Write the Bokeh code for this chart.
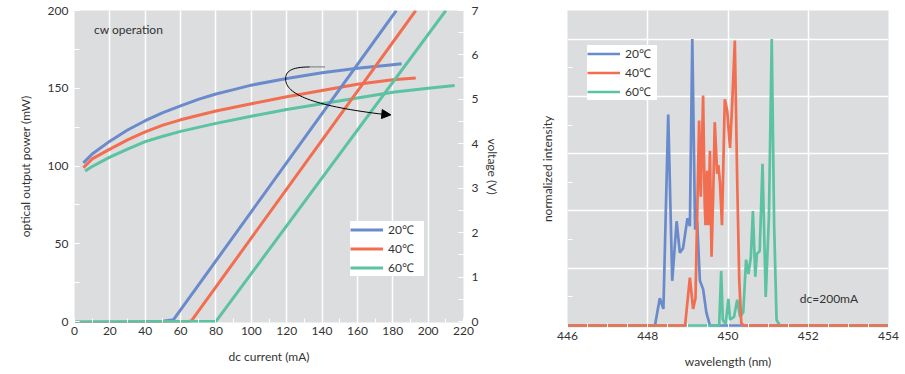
from bokeh.plotting import figure
from bokeh.models import (Range1d, LinearAxis, SingleIntervalTicker, FixedTicker, Legend, LegendItem,
                          Arrow, NormalHead, Label)
from bokeh.layouts import row
from bokeh.embed import file_html
from bokeh.resources import INLINE

# ---------------- data: left chart (L-I and V-I) ----------------
temps = ["20℃", "40℃", "60℃"]
colors = ["#6A8BCB", "#F26E50", "#5BC2A2"]

li_current_20 = [0, 20, 40, 50, 56, 182]
li_power_20 = [-0.4, -0.4, -0.3, 0.2, 1.2, 200]
li_current_40 = [0, 20, 40, 55, 62, 66, 193]
li_power_40 = [-0.8, -1.0, -1.0, -0.8, -0.2, 0.3, 200]
li_current_60 = [0, 50, 80, 210]
li_power_60 = [-0.3, 0.0, 0.1, 200]

vi_current_20 = [5, 10, 20, 30, 40, 50, 60, 70, 80, 90, 100, 120, 140, 160, 180, 185]
vi_voltage_20 = [3.57, 3.77, 4.06, 4.31, 4.52, 4.70, 4.855, 5.00, 5.12, 5.22, 5.32, 5.47, 5.60, 5.70, 5.78, 5.80]
vi_current_40 = [5, 10, 20, 30, 40, 50, 60, 80, 100, 120, 140, 160, 180, 193]
vi_voltage_40 = [3.46, 3.66, 3.88, 4.09, 4.27, 4.42, 4.54, 4.74, 4.90, 5.06, 5.20, 5.34, 5.44, 5.48]
vi_current_60 = [6, 10, 20, 30, 40, 50, 60, 80, 100, 120, 140, 160, 180, 200, 215]
vi_voltage_60 = [3.39, 3.49, 3.70, 3.88, 4.05, 4.17, 4.28, 4.46, 4.62, 4.77, 4.90, 5.03, 5.16, 5.25, 5.31]

# curved arrow (annotation, data coords)
arrow_gray_x = [141.7, 133.0]
arrow_gray_y = [163.7, 163.7]
arrow_tip = (178.9, 132.9)

# ---------------- data: right chart (spectra) ----------------
wl_20 = [446.0, 448.18, 448.30, 448.39, 448.51, 448.61, 448.72, 448.80, 448.88, 448.99,
         449.05, 449.11, 449.18, 449.23, 449.30, 449.38, 449.46, 449.55, 454.0]
int_20 = [0, 0, 0.095, 0.058, 0.737, 0.156, 0.364, 0.254, 0.27, 0.375,
          0.347, 1.0, 0.335, 0.364, 0.156, 0.127, 0.046, 0, 0]

wl_40 = [446.0, 448.93, 449.05, 449.13, 449.19, 449.28, 449.32, 449.38, 449.42, 449.44,
         449.48, 449.51, 449.55, 449.59, 449.63, 449.67, 449.73, 449.76, 449.80, 449.85,
         449.92, 449.98, 450.05, 450.10, 450.17, 450.23, 450.28, 450.33, 450.38, 454.0]
int_40 = [0, 0, 0.167, 0.058, 0.095, 0.716, 0.45, 0.803, 0.42, 0.35,
          0.54, 0.35, 0.61, 0.24, 0.45, 0.71, 0.53, 0.56, 0.50, 0.35,
          0.79, 0.75, 0.62, 0.76, 0.995, 0.50, 0.16, 0.01, 0, 0]

wl_60 = [446.0, 449.78, 449.83, 449.87, 449.94, 450.01, 450.05, 450.15, 450.23, 450.30,
         450.38, 450.45, 450.51, 450.57, 450.62, 450.68, 450.72, 450.79, 450.86, 450.94,
         451.02, 451.09, 451.15, 451.21, 451.29, 454.0]
int_60 = [0, 0, 0.19, 0.02, 0.005, 0.093, 0.02, 0.03, 0.09, 0.03,
          0.046, 0.23, 0.18, 0.24, 0.40, 0.17, 0.25, 0.26, 0.565, 0.10,
          0.38, 1.0, 0.35, 0.02, 0, 0]

intensity_minor_ticks = [0.1, 0.3, 0.5, 0.7, 0.9]

FONT = "Lato"
TXT = "#333333"
BG = "#DCDDDF"

# ================= left figure =================
p1 = figure(frame_width=389, frame_height=312, x_range=Range1d(0, 220), y_range=Range1d(-0.6, 200),
            output_backend="svg", toolbar_location=None, title=None,
            min_border_left=74, min_border_right=39, min_border_top=6, min_border_bottom=53)
p1.extra_y_ranges = {"v": Range1d(-0.021, 7.0)}
p1.background_fill_color = BG
p1.outline_line_color = None

p1.xaxis.ticker = SingleIntervalTicker(interval=20, num_minor_ticks=2)
p1.yaxis.ticker = SingleIntervalTicker(interval=50, num_minor_ticks=2)
p1.xgrid.ticker = SingleIntervalTicker(interval=20)
p1.xgrid.grid_line_color = "white"
p1.xgrid.grid_line_width = 1.5
p1.ygrid.grid_line_color = None

vaxis = LinearAxis(y_range_name="v", ticker=SingleIntervalTicker(interval=1, num_minor_ticks=2),
                   axis_label="voltage (V)")
p1.add_layout(vaxis, "right")

for ax in [p1.xaxis[0], p1.yaxis[0], vaxis]:
    ax.axis_line_color = None
    ax.major_tick_out = 0
    ax.minor_tick_out = 0
    ax.major_tick_in = 5
    ax.minor_tick_in = 5
    ax.major_tick_line_color = "white"
    ax.minor_tick_line_color = "white"
    ax.major_label_text_font = FONT
    ax.major_label_text_font_size = "12px"
    ax.major_label_text_color = TXT
    ax.axis_label_text_font = FONT
    ax.axis_label_text_font_size = "12px"
    ax.axis_label_text_font_style = "normal"
    ax.axis_label_text_color = TXT

p1.xaxis.axis_label = "dc current (mA)"
p1.xaxis.major_label_standoff = 4
p1.xaxis.axis_label_standoff = 11
p1.xaxis.minor_tick_in = 4
p1.yaxis[0].axis_label = "optical output power (mW)"
p1.yaxis[0].major_label_standoff = 6
p1.yaxis[0].axis_label_standoff = 12
vaxis.major_label_standoff = 8
vaxis.axis_label_standoff = 4

li_sets = [(li_current_20, li_power_20), (li_current_40, li_power_40), (li_current_60, li_power_60)]
vi_sets = [(vi_current_20, vi_voltage_20), (vi_current_40, vi_voltage_40), (vi_current_60, vi_voltage_60)]
for (vx, vy), c in zip(vi_sets, colors):
    p1.line(vx, vy, y_range_name="v", line_color=c, line_width=3)
li_renderers = []
for (cx, cy), c in zip(li_sets, colors):
    li_renderers.append(p1.line(cx, cy, line_color=c, line_width=3))

# curved arrow
p1.line(arrow_gray_x, arrow_gray_y, line_color="#8A8A8A", line_width=1.2)
p1.bezier(x0=[133.0], y0=[163.7], x1=[119.4], y1=[156.0],
          cx0=[122.0], cy0=[163.7], cx1=[119.4], cy1=[160.5], line_color="black", line_width=1)
p1.bezier(x0=[119.4], y0=[156.0], x1=[172.0], y1=[133.6],
          cx0=[119.4], cy0=[146.0], cx1=[135.0], cy1=[139.0], line_color="black", line_width=1)
p1.add_layout(Arrow(end=NormalHead(size=9, fill_color="black", line_color="black", line_width=1),
                    x_start=172.0, y_start=133.6, x_end=arrow_tip[0], y_end=arrow_tip[1],
                    line_color="black", line_width=1))

p1.add_layout(Label(x=11, y=187.5, text="cw operation", text_font=FONT, text_font_size="12px",
                    text_color=TXT, text_baseline="middle"))

leg1 = Legend(items=[LegendItem(label=t, renderers=[r]) for t, r in zip(temps, li_renderers)],
              location=(276, 46), border_line_color=None, background_fill_color="white",
              background_fill_alpha=1.0, glyph_width=33, glyph_height=17, label_height=17,
              label_width=36, spacing=2, padding=12, label_standoff=5, margin=0,
              label_text_font=FONT, label_text_font_size="12px", label_text_color=TXT)
p1.add_layout(leg1)

# ================= right figure =================
p2 = figure(frame_width=321, frame_height=317, x_range=Range1d(446, 454), y_range=Range1d(-0.007, 1.1),
            output_backend="svg", toolbar_location=None, title=None,
            min_border_left=64, min_border_right=18, min_border_top=10, min_border_bottom=44)
p2.background_fill_color = BG
p2.outline_line_color = None
p2.xaxis.ticker = SingleIntervalTicker(interval=2, num_minor_ticks=4)
p2.yaxis.ticker = FixedTicker(ticks=[], minor_ticks=intensity_minor_ticks)
p2.xgrid.ticker = SingleIntervalTicker(interval=2)
p2.ygrid.ticker = SingleIntervalTicker(interval=0.2)
p2.xgrid.grid_line_color = "white"
p2.ygrid.grid_line_color = "white"
p2.xgrid.grid_line_width = 1.5
p2.ygrid.grid_line_width = 1.5

for ax in [p2.xaxis[0], p2.yaxis[0]]:
    ax.axis_line_color = None
    ax.major_tick_out = 0
    ax.minor_tick_out = 0
    ax.major_tick_in = 0
    ax.minor_tick_in = 4
    ax.minor_tick_line_color = "white"
    ax.major_label_text_font = FONT
    ax.major_label_text_font_size = "12px"
    ax.major_label_text_color = TXT
    ax.axis_label_text_font = FONT
    ax.axis_label_text_font_size = "12px"
    ax.axis_label_text_font_style = "normal"
    ax.axis_label_text_color = TXT

p2.xaxis.axis_label = "wavelength (nm)"
p2.xaxis.major_label_standoff = 4
p2.xaxis.axis_label_standoff = 11
p2.yaxis.axis_label = "normalized intensity"
p2.yaxis.major_label_standoff = 0
p2.yaxis.axis_label_standoff = 13
p2.yaxis.minor_tick_in = 5

spec_sets = [(wl_20, int_20), (wl_60, int_60), (wl_40, int_40)]
spec_cols = [colors[0], colors[2], colors[1]]
spec_r = {}
for (wx, wy), c in zip(spec_sets, spec_cols):
    spec_r[c] = p2.line(wx, wy, line_color=c, line_width=2.7)

p2.add_layout(Label(x=451.79, y=0.094, text="dc=200mA", text_font=FONT, text_font_size="12px",
                    text_color=TXT, text_baseline="middle"))

leg2 = Legend(items=[LegendItem(label=t, renderers=[spec_r[c]]) for t, c in zip(temps, colors)],
              location=(20, 227), border_line_color=None, background_fill_color="white",
              background_fill_alpha=1.0, glyph_width=33, glyph_height=17, label_height=17,
              label_width=32, spacing=2, padding=11, label_standoff=5, margin=0,
              label_text_font=FONT, label_text_font_size="12px", label_text_color=TXT)
p2.add_layout(leg2)

layout = row(p1, p2)
open("out.html", "w").write(file_html(layout, INLINE))
